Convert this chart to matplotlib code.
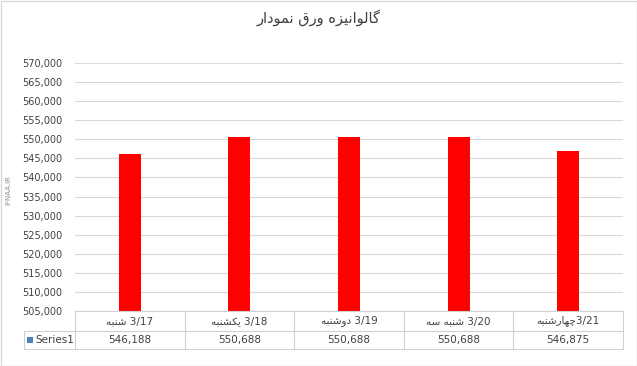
import matplotlib
matplotlib.use("Agg")
import matplotlib.pyplot as plt
from matplotlib.lines import Line2D
from matplotlib.patches import Rectangle
from matplotlib.transforms import blended_transform_factory

plt.rcParams['font.family'] = ['DejaVu Sans']

title = "گالوانیزه ورق نمودار"
categories = ["3/17 شنبه", "3/18 یکشنبه", "3/19 دوشنبه", "3/20 شنبه سه", "3/21چهارشنبه"]
values = [546188, 550688, 550688, 550688, 546875]
series_name = "Series1"
watermark = "IFNAA.IR"

# presentation forms: isolated, final, initial, medial (right-joining letters have only two)
FORMS = {
    'ا': ('\uFE8D', '\uFE8E'),
    'د': ('\uFEA9', '\uFEAA'),
    'ر': ('\uFEAD', '\uFEAE'),
    'ز': ('\uFEAF', '\uFEB0'),
    'و': ('\uFEED', '\uFEEE'),
    'ب': ('\uFE8F', '\uFE90', '\uFE91', '\uFE92'),
    'چ': ('\uFB7A', '\uFB7B', '\uFB7C', '\uFB7D'),
    'س': ('\uFEB1', '\uFEB2', '\uFEB3', '\uFEB4'),
    'ش': ('\uFEB5', '\uFEB6', '\uFEB7', '\uFEB8'),
    'ق': ('\uFED5', '\uFED6', '\uFED7', '\uFED8'),
    'ک': ('\uFB8E', '\uFB8F', '\uFB90', '\uFB91'),
    'گ': ('\uFB92', '\uFB93', '\uFB94', '\uFB95'),
    'ل': ('\uFEDD', '\uFEDE', '\uFEDF', '\uFEE0'),
    'م': ('\uFEE1', '\uFEE2', '\uFEE3', '\uFEE4'),
    'ن': ('\uFEE5', '\uFEE6', '\uFEE7', '\uFEE8'),
    'ه': ('\uFEE9', '\uFEEA', '\uFEEB', '\uFEEC'),
    'ی': ('\uFBFC', '\uFBFD', '\uFBFE', '\uFBFF'),
}


def shape_word(word):
    out = []
    for i, ch in enumerate(word):
        f = FORMS[ch]
        prev_joins = i > 0 and len(FORMS[word[i - 1]]) == 4
        next_joins = len(f) == 4 and i < len(word) - 1
        if prev_joins and next_joins:
            out.append(f[3])
        elif prev_joins:
            out.append(f[1])
        elif next_joins:
            out.append(f[2])
        else:
            out.append(f[0])
    return ''.join(reversed(out))


def rtl(text):
    # split into runs of arabic letters / others, then lay out right to left
    runs = []
    cur, cur_ar = '', None
    for ch in text:
        is_ar = ch in FORMS
        if ch == ' ':
            if cur:
                runs.append((cur, cur_ar))
            runs.append((' ', None))
            cur, cur_ar = '', None
            continue
        if cur and is_ar != cur_ar:
            runs.append((cur, cur_ar))
            cur = ''
        cur += ch
        cur_ar = is_ar
    if cur:
        runs.append((cur, cur_ar))
    return ''.join(shape_word(r) if a else r for r, a in reversed(runs))


W, H = 637, 366
fig = plt.figure(figsize=(W / 100, H / 100), dpi=100)
fig.patch.set_facecolor('white')

left, right, top, bottom = 75, 623, 63, 311
ax = fig.add_axes([left / W, 1 - bottom / H, (right - left) / W, (bottom - top) / H])

x = list(range(len(categories)))
ax.bar(x, values, width=0.2, color='#ff0000', zorder=3)
ax.set_xlim(-0.5, len(categories) - 0.5)
ax.set_ylim(505000, 570000)
ax.set_yticks(range(505000, 570001, 5000))
ax.set_yticklabels([f"{v:,}" for v in range(505000, 570001, 5000)])
ax.tick_params(axis='y', length=0, pad=9, labelsize=7, labelcolor='#404040')
ax.set_xticks([])
ax.grid(axis='y', color='#d9d9d9', linewidth=0.8, zorder=0)
for s in ax.spines.values():
    s.set_visible(False)

fig.text(0.5, 1 - 18 / H, rtl(title), ha='center', va='center', fontsize=10.5, color='#404040')

# data table below the plot
tr = blended_transform_factory(ax.transData, fig.transFigure)
fy = lambda py: 1 - py / H
line_kw = dict(color='#d0d0d0', linewidth=0.8)
row_top, row_mid, row_bot = 311, 331, 349
xs = [i - 0.5 for i in range(len(categories) + 1)]
fig.add_artist(Line2D([left / W, right / W], [fy(row_top)] * 2, transform=fig.transFigure, **line_kw))
fig.add_artist(Line2D([24 / W, right / W], [fy(row_mid)] * 2, transform=fig.transFigure, **line_kw))
fig.add_artist(Line2D([24 / W, right / W], [fy(row_bot)] * 2, transform=fig.transFigure, **line_kw))
fig.add_artist(Line2D([24 / W, 24 / W], [fy(row_mid), fy(row_bot)], transform=fig.transFigure, **line_kw))
for xv in xs:
    fig.add_artist(Line2D([xv, xv], [fy(row_top), fy(row_bot)], transform=tr, **line_kw))

for i, (c, v) in enumerate(zip(categories, values)):
    fig.text(i, fy((row_top + row_mid) / 2), rtl(c), transform=tr, ha='center', va='center',
             fontsize=7.5, color='#404040')
    fig.text(i, fy((row_mid + row_bot) / 2), f"{v:,}", transform=tr, ha='center', va='center',
             fontsize=7.5, color='#404040')

fig.add_artist(Rectangle((27 / W, fy(343)), 6 / W, 6 / H, transform=fig.transFigure,
                         facecolor='#4f81bd', edgecolor='none'))
fig.text(35 / W, fy((row_mid + row_bot) / 2), series_name, ha='left', va='center',
         fontsize=7.5, color='#404040')

fig.text(8 / W, fy(190), watermark, rotation=90, ha='center', va='center', fontsize=5, color='#8c8c8c')

fig.add_artist(Rectangle((0.5 / W, 0.5 / H), (W - 1) / W, (H - 1) / H, transform=fig.transFigure,
                         facecolor='none', edgecolor='#d9d9d9', linewidth=1))

fig.savefig('out.png', dpi=100)
